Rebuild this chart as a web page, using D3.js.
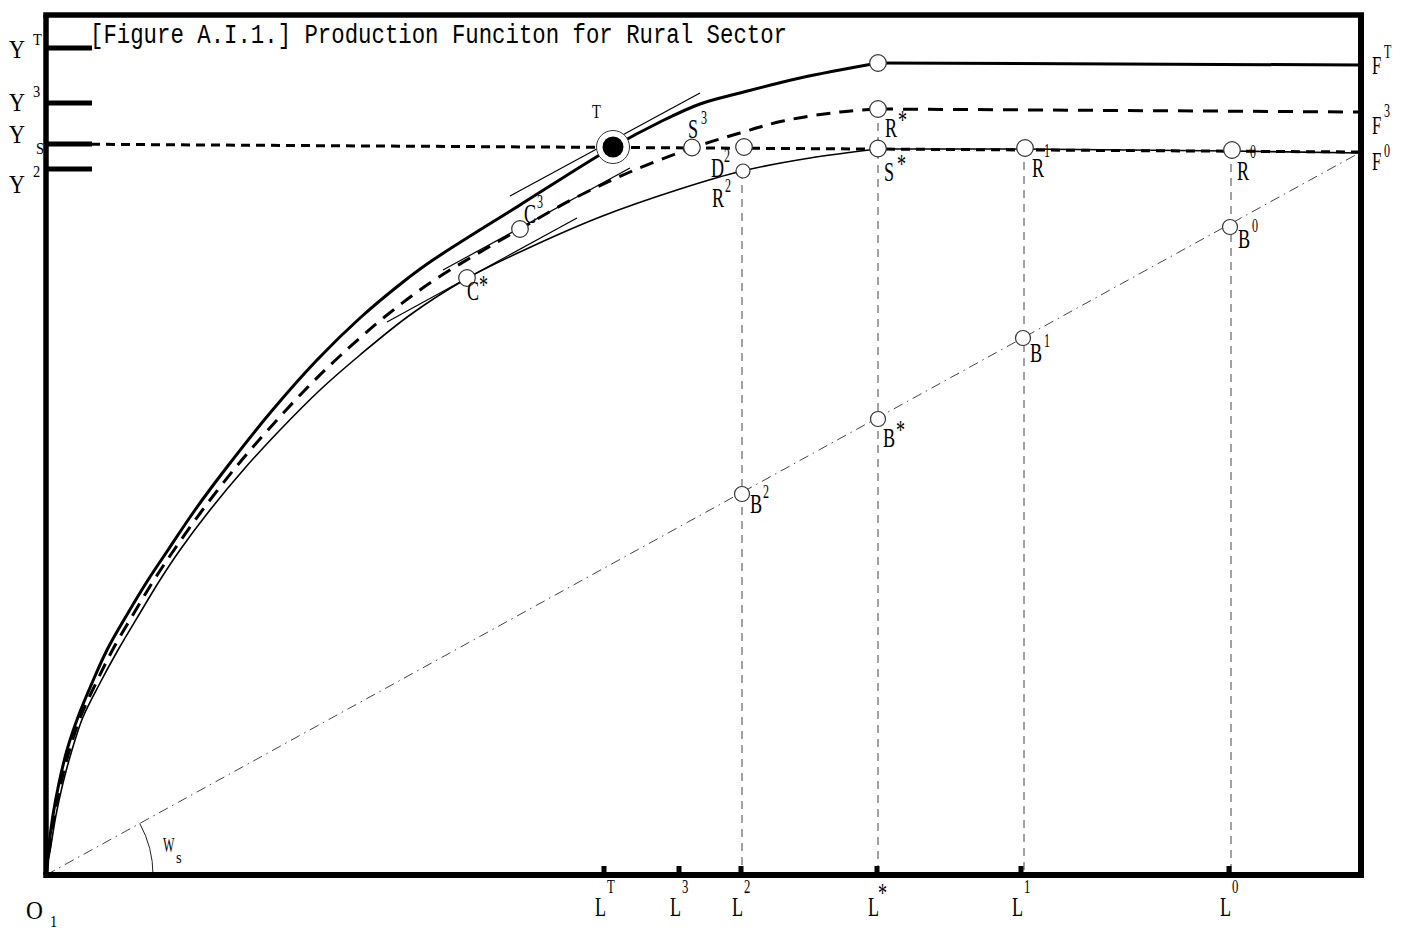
<!DOCTYPE html>
<html><head><meta charset="utf-8">
<script src="https://cdn.jsdelivr.net/npm/d3@7"></script>
<style>body{margin:0;background:#fff}svg{display:block}</style>
</head><body>
<svg id="c" width="1410" height="932"></svg>
<script>
// ---------------- DATA ----------------
const title = "[Figure A.I.1.] Production Funciton for Rural Sector";
// x = labour, y = output
const curveFT = [[0,0],[0.3,3.0],[0.7,6.0],[1.3,9.2],[2.1,12.5],[3.2,15.8],[4.6,19.2],[6.1,22.5],[8.2,26.2],[10.2,29.5],[12.2,32.5],[14.9,36.5],[18.1,40.8],[22.4,46.2],[27.1,51.5],[31.4,55.7],[35.7,59.3],[38.4,61.3],[47.4,67.0],[56.7,72.8],[61.4,75.3],[65.4,77.1],[69.4,78.2],[75.4,79.7],[83.2,81.2]];
const flatFT = [[83.2,81.2],[131.5,81.0]];
const curveF3 = [[0,0],[0.4,3.0],[0.85,6.0],[1.5,9.2],[2.35,12.5],[3.45,15.8],[5.0,19.2],[6.65,22.5],[8.8,26.2],[10.8,29.5],[12.8,32.5],[15.65,36.5],[19.0,40.8],[22.2,44.5],[25.9,48.5],[29.5,52.0],[34.1,56.0],[39.0,59.6],[47.4,64.6],[52.7,67.6],[58.4,70.3],[64.6,72.7],[69.4,74.2],[73.7,75.4],[79.4,76.3],[83.2,76.6]];
const flatF3 = [[83.2,76.6],[131.5,76.3]];
const curveF0 = [[0,0],[0.5,3.0],[1.0,6.0],[1.7,9.2],[2.6,12.5],[3.7,15.8],[5.4,19.2],[7.2,22.5],[9.4,26.2],[11.4,29.5],[13.4,32.5],[16.4,36.5],[19.9,40.7],[23.4,44.5],[27.4,48.5],[31.4,52.0],[36.4,56.0],[42.0,59.6],[47.4,62.3],[55.4,65.8],[63.4,68.6],[69.6,70.4],[76.4,71.7],[83.2,72.6]];
const flatF0 = [[83.2,72.6],[97.8,72.6],[118.5,72.4],[131.5,72.2]];
const ysLine = [[0,73.1],[131.5,72.3]];
const wageRay = [[0,0],[131.5,72.3]];
const tangents = [
  [[46.4,67.9],[65.4,78.2]],   // at T
  [[39.7,60.5],[58.4,70.7]],   // at C3
  [[34.1,55.3],[53.1,65.7]]    // at C*
];
const pointNames = ["top","R*","S*","S3","D2","R2","C3","C*","R1","R0","B2","B*","B1","B0"];
const pointX = [83.2,83.2,83.2,64.6,69.8,69.7,47.4,42.1,97.9,118.6,69.6,83.2,97.7,118.4];
const pointY = [81.2,76.6,72.65,72.75,72.8,70.4,64.6,59.7,72.7,72.5,38.1,45.6,53.7,64.8];
const pointT = {x:56.7, y:72.8};
const dropX = [69.6,83.2,97.8,118.5];
const dropTop = [70.4,76.6,72.7,72.5];
const yTickNames = ["T","3","S","2"];
const yTickValues = [82.7,77.2,73.1,70.6];
const lTickNames = ["T","3","2","*","1","0"];
const lTickValues = [55.8,63.3,69.5,83.1,97.5,118.3];
const fNames = ["T","3","0"];
const fValues = [81.0,76.3,72.2];

// ---------------- LAYOUT / STYLE ----------------
const svg = d3.select("#c");
const x = d3.scaleLinear().domain([0,131.5]).range([46,1361]);
const y = d3.scaleLinear().domain([0,86]).range([875,15]);
const lin = d3.line().x(d=>x(d[0])).y(d=>y(d[1]));
const smooth = d3.line().x(d=>x(d[0])).y(d=>y(d[1])).curve(d3.curveCatmullRom.alpha(0.5));
const SERIF = "'Liberation Serif','Times New Roman',serif";

// drop lines
dropX.forEach((v,i)=>{
  svg.append("path").attr("d", lin([[v,dropTop[i]],[v,0]]))
    .attr("stroke","#444").attr("stroke-width",1).attr("stroke-dasharray","8,6").attr("fill","none");
});
// wage ray
svg.append("path").attr("d", lin(wageRay)).attr("stroke","#444").attr("stroke-width",1)
  .attr("stroke-dasharray","10,5,1.5,5").attr("fill","none");
// W_s arc
{
  const ang = Math.atan2(y(0)-y(wageRay[1][1]), x(wageRay[1][0])-x(0));
  const p = d3.path(); const r = 107, cx = x(0), cy = y(0);
  p.moveTo(cx + r*Math.cos(-ang), cy + r*Math.sin(-ang));
  p.arc(cx, cy, r, -ang, 0, false);
  svg.append("path").attr("d", p.toString()).attr("stroke","#222").attr("stroke-width",1).attr("fill","none");
}
// Ys line
svg.append("path").attr("d", lin(ysLine)).attr("stroke","#000").attr("stroke-width",3)
  .attr("stroke-dasharray","9,6").attr("fill","none");
// curves
svg.append("path").attr("d", smooth(curveF0)).attr("stroke","#000").attr("stroke-width",1.6).attr("fill","none");
svg.append("path").attr("d", lin(flatF0)).attr("stroke","#000").attr("stroke-width",1.6).attr("fill","none");
svg.append("path").attr("d", smooth(curveF3)).attr("stroke","#000").attr("stroke-width",3)
  .attr("stroke-dasharray","14,9").attr("fill","none");
svg.append("path").attr("d", lin(flatF3)).attr("stroke","#000").attr("stroke-width",3)
  .attr("stroke-dasharray","15,10").attr("fill","none");
svg.append("path").attr("d", smooth(curveFT)).attr("stroke","#000").attr("stroke-width",3).attr("fill","none");
svg.append("path").attr("d", lin(flatFT)).attr("stroke","#000").attr("stroke-width",3).attr("fill","none");
// tangents
tangents.forEach(t=>svg.append("path").attr("d", lin(t)).attr("stroke","#000").attr("stroke-width",1.2).attr("fill","none"));

// frame
const fw = 5.5;
svg.append("line").attr("x1",x(0)-fw/2).attr("x2",x(131.5)+3).attr("y1",y(86)).attr("y2",y(86)).attr("stroke","#000").attr("stroke-width",fw);
svg.append("line").attr("x1",x(0)-fw/2).attr("x2",x(131.5)+3).attr("y1",y(0)).attr("y2",y(0)).attr("stroke","#000").attr("stroke-width",6);
svg.append("line").attr("x1",x(0)).attr("x2",x(0)).attr("y1",y(86)).attr("y2",y(0)).attr("stroke","#000").attr("stroke-width",fw);
svg.append("line").attr("x1",x(131.5)).attr("x2",x(131.5)).attr("y1",y(86)).attr("y2",y(0)).attr("stroke","#000").attr("stroke-width",6);

// y ticks
yTickValues.forEach(v=>svg.append("line").attr("x1",x(0)).attr("x2",92).attr("y1",y(v)).attr("y2",y(v))
  .attr("stroke","#000").attr("stroke-width",5));
// x ticks
lTickValues.forEach(v=>svg.append("rect").attr("x",x(v)-2.5).attr("y",y(0)-9).attr("width",5).attr("height",9).attr("fill","#000"));

// circles
function circ(cx, cy, r){
  svg.append("circle").attr("cx",cx).attr("cy",cy).attr("r",r).attr("fill","#fff")
    .attr("stroke","#333").attr("stroke-width",1.2);
}
pointNames.forEach((n,i)=>{
  const r = (n==="R2") ? 7 : (n[0]==="B" ? 7.5 : 8.3);
  circ(x(pointX[i]), y(pointY[i]), r);
});
svg.append("circle").attr("cx",x(pointT.x)).attr("cy",y(pointT.y)).attr("r",16.5).attr("fill","#fff").attr("stroke","#333").attr("stroke-width",1);
svg.append("circle").attr("cx",x(pointT.x)).attr("cy",y(pointT.y)).attr("r",10.5).attr("fill","#000");

// label: one text element, horizontally condensed, main glyph + raised/lowered index
function label(bx, by, sx, main, mSize, idx, iSize, idxDx, idxDy){
  const t = svg.append("text").attr("transform",`translate(${bx},${by}) scale(${sx},1)`)
    .attr("font-family",SERIF).attr("fill","#000");
  t.append("tspan").attr("x",0).attr("y",0).attr("font-size",mSize).text(main);
  if (idx) t.append("tspan").attr("x",idxDx/sx).attr("y",idxDy)
    .attr("font-size", idx==="*" ? mSize : iSize).text(idx);
  return t;
}
// point label offsets (px, relative to point centre): [dxMain, dyMain, dxIdx, dyIdx]
const labelOffsets = {
  "S3":[-4,-10,9,-24], "D2":[-33,30,-20,15], "R2":[-31,36,-18,21],
  "C3":[4,-6,17,-21], "C*":[0,22,12,16], "R*":[7,28,20,20],
  "S*":[6,32,19,24], "R1":[7,29,19,9], "R0":[5,30,18,8],
  "B2":[8,19,21,4], "B*":[5,28,18,20], "B1":[7,24,21,9], "B0":[8,21,22,5]
};
pointNames.forEach((n,i)=>{
  const o = labelOffsets[n]; if (!o) return;
  const bx = x(pointX[i]) + o[0], by = y(pointY[i]) + o[1];
  label(bx, by, 0.67, n[0], 27, n.slice(1), 18, o[2]-o[0], o[3]-o[1]);
});
label(x(pointT.x)-21, y(pointT.y)-29, 0.8, "T", 18);

// Y labels
const yLabOff = {"T":[9,10,24,-13],"3":[9,8,24,-14],"S":[9,-1,27,11],"2":[9,24,24,-16]};
yTickNames.forEach((n,i)=>{
  const o = yLabOff[n], ty = y(yTickValues[i]);
  label(o[0], ty+o[1], 0.85, "Y", 26, n, 17, o[2], o[3]);
});
// F labels
const fLabOff = [[11,9,12,-16],[11,22,12,-17],[11,17,12,-13]];
fNames.forEach((n,i)=>{
  const o = fLabOff[i];
  label(x(131.5)+o[0], y(fValues[i])+o[1], 0.67, "F", 25, n, 18, o[2], o[3]);
});
// L labels
lTickNames.forEach((n,i)=>{
  const bx = x(lTickValues[i]) - 9;
  if (n==="*") label(bx, 916, 0.67, "L", 27, n, 27, 10, -14);
  else label(bx, 916, 0.67, "L", 27, n, 19, 12, -23);
});
// origin and wage labels
label(26, 919, 0.9, "O", 26, "1", 16, 24, 8);
label(163, 852, 0.55, "W", 22);
label(176, 863, 0.85, "s", 17);

// title
svg.append("text").attr("x",90).attr("y",43).attr("font-family","'Liberation Mono',monospace")
  .attr("font-size",27).attr("textLength",697).attr("lengthAdjust","spacingAndGlyphs")
  .attr("xml:space","preserve").style("white-space","pre").text(title);
</script>
</body></html>
